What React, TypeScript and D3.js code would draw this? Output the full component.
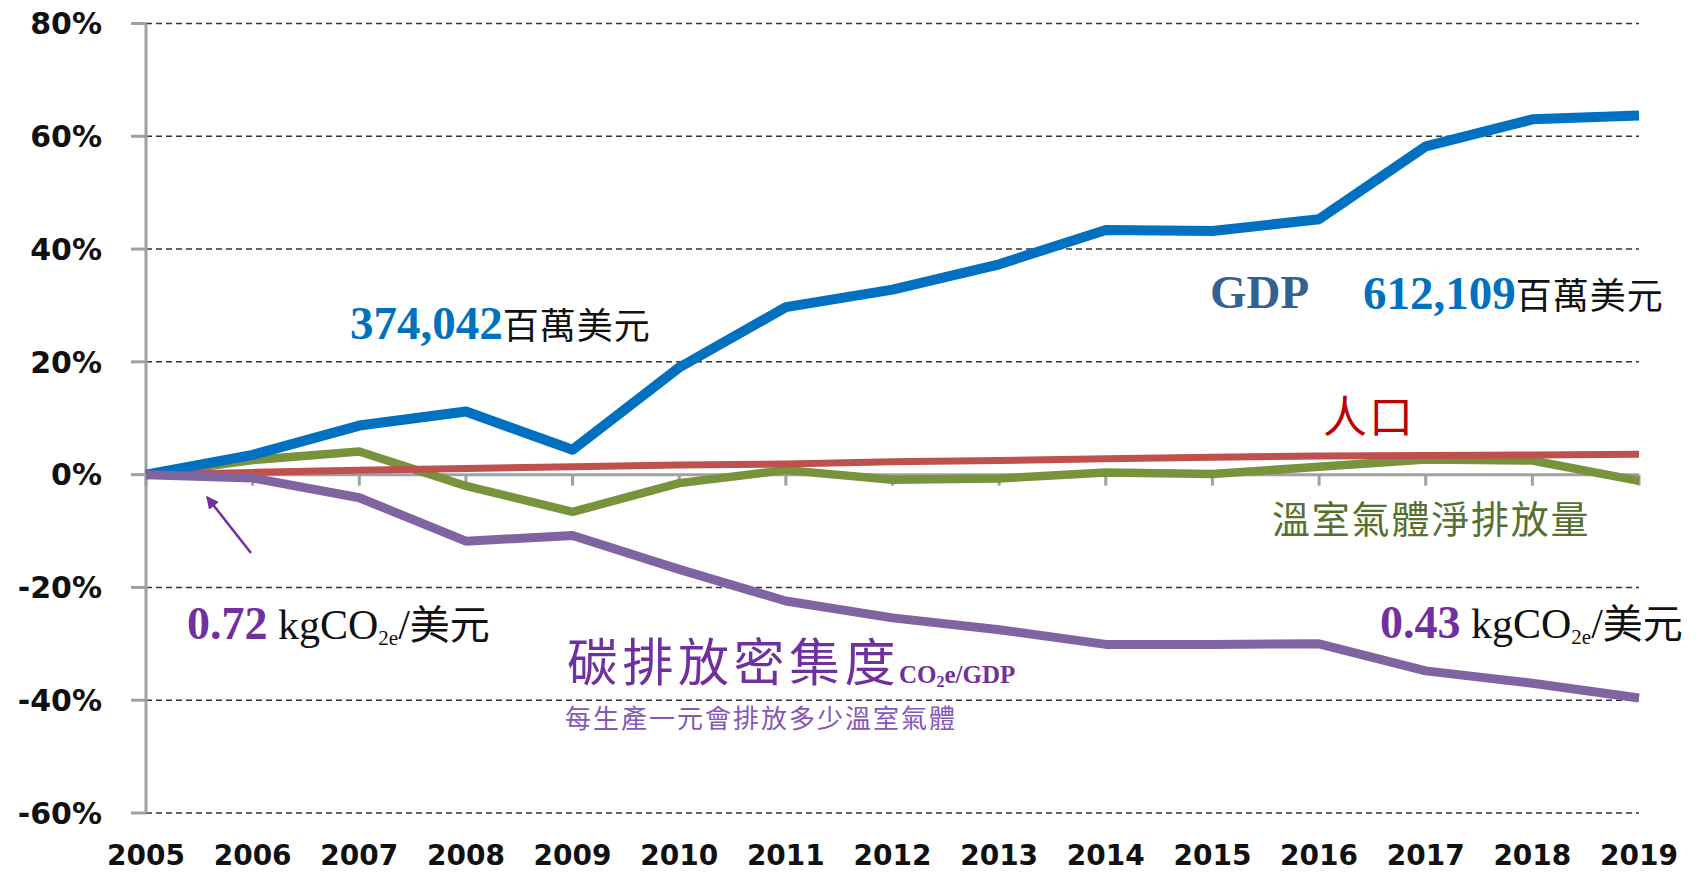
import React from "react";
import * as d3 from "d3";

const years = [2005, 2006, 2007, 2008, 2009, 2010, 2011, 2012, 2013, 2014, 2015, 2016, 2017, 2018, 2019];
const gdp = [0, 3.5, 8.7, 11.2, 4.4, 19.0, 29.7, 32.8, 37.3, 43.4, 43.2, 45.3, 58.2, 63.0, 63.7];
const ghg = [0, 2.6, 4.1, -2.0, -6.6, -1.5, 0.8, -0.9, -0.7, 0.4, 0.1, 1.4, 2.7, 2.5, -1.1];
const population = [0, 0.4, 0.8, 1.1, 1.4, 1.7, 1.9, 2.3, 2.5, 2.8, 3.1, 3.3, 3.4, 3.5, 3.6];
const intensity = [0, -0.6, -4.1, -11.8, -10.8, -16.8, -22.4, -25.4, -27.5, -30.1, -30.1, -30.0, -34.8, -37.0, -39.6];
const yTicks = [80, 60, 40, 20, 0, -20, -40, -60];

const CJK = "'Noto Sans CJK TC', 'Noto Sans CJK SC', sans-serif";
const SERIF = "'Liberation Serif', 'DejaVu Serif', serif";
const AXISFONT = "'DejaVu Sans', Verdana, sans-serif";

export default function App() {
  const x = d3.scaleLinear().domain([2005, 2019]).range([146, 1639]);
  const y = d3.scaleLinear().domain([-60, 80]).range([813, 23.5]);
  const line = d3
    .line<number>()
    .x((_, i) => x(years[i]))
    .y((d) => y(d));

  const series = [
    { data: ghg, color: "#77933C", w: 8.5 },
    { data: population, color: "#C0504D", w: 7 },
    { data: gdp, color: "#0070C0", w: 10 },
    { data: intensity, color: "#8064A2", w: 9 },
  ];

  const x0 = x(2005);
  const x1 = x(2019);

  return (
    <svg
      width={1700}
      height={873}
      style={{ position: "absolute", left: 0, top: 0, background: "#fff" }}
    >
      <defs>
        <marker id="arrowhead" viewBox="0 0 10 10" refX="9" refY="5" markerWidth="5" markerHeight="5" orient="auto">
          <path d="M0,0 L10,5 L0,10 z" fill="#7030A0" />
        </marker>
      </defs>
      {yTicks
        .filter((t) => t !== 0)
        .map((t) => (
          <line
            key={"g" + t}
            x1={x0}
            x2={x1}
            y1={y(t)}
            y2={y(t)}
            stroke="#333"
            strokeWidth={1.5}
            strokeDasharray="6,4"
          />
        ))}
      <line x1={x0} x2={x0} y1={y(80)} y2={y(-60)} stroke="#A0A0A0" strokeWidth={3} />
      {yTicks.map((t) => (
        <g key={"yt" + t}>
          <line x1={x0 - 15} x2={x0} y1={y(t)} y2={y(t)} stroke="#A0A0A0" strokeWidth={3} />
          <text
            x={102}
            y={y(t)}
            dy="0.36em"
            textAnchor="end"
            fontFamily={AXISFONT}
            fontWeight="bold"
            fontSize={30}
            fill="#111"
          >
            {t + "%"}
          </text>
        </g>
      ))}
      <line x1={x0} x2={x1} y1={y(0)} y2={y(0)} stroke="#A0A0A0" strokeWidth={3} />
      {years.map((yr) => (
        <g key={"xt" + yr}>
          <line x1={x(yr)} x2={x(yr)} y1={y(0)} y2={y(0) + 11} stroke="#A0A0A0" strokeWidth={3} />
          <text
            x={x(yr)}
            y={865}
            textAnchor="middle"
            fontFamily={AXISFONT}
            fontWeight="bold"
            fontSize={28}
            fill="#111"
          >
            {yr}
          </text>
        </g>
      ))}
      {series.map((s, i) => (
        <path
          key={"s" + i}
          d={line(s.data) || ""}
          fill="none"
          stroke={s.color}
          strokeWidth={s.w}
          strokeLinejoin="round"
        />
      ))}

      <text x={350} y={339} fontFamily={SERIF} fontWeight="bold" fontSize={47} fill="#0070C0">
        374,042
        <tspan fontFamily={CJK} fontWeight="normal" fontSize={36} fill="#111" letterSpacing={1}>百萬美元</tspan>
      </text>
      <text x={1210} y={308} fontFamily={SERIF} fontWeight="bold" fontSize={47} fill="#366092">
        GDP
      </text>
      <text x={1363} y={309} fontFamily={SERIF} fontWeight="bold" fontSize={47} fill="#0070C0">
        612,109
        <tspan fontFamily={CJK} fontWeight="normal" fontSize={36} fill="#111" letterSpacing={1}>百萬美元</tspan>
      </text>
      <text x={1323} y={433} fontFamily={CJK} fontSize={44} fill="#C00000" letterSpacing={2}>
        人口
      </text>
      <text x={1272} y={533} fontFamily={CJK} fontSize={38} fill="#56702F" letterSpacing={1.8}>
        溫室氣體淨排放量
      </text>

      <text x={187} y={639} fontFamily={SERIF} fontWeight="bold" fontSize={46} fill="#7030A0">
        0.72
        <tspan fontWeight="normal" fontSize={42} fill="#111"> kgCO</tspan>
        <tspan fontWeight="normal" fontSize={21} fill="#111" dy={6}>2e</tspan>
        <tspan fontWeight="normal" fontSize={42} fill="#111" dy={-6}>/</tspan>
        <tspan fontFamily={CJK} fontWeight="normal" fontSize={40} fill="#111">美元</tspan>
      </text>
      <text x={1380} y={638} fontFamily={SERIF} fontWeight="bold" fontSize={46} fill="#7030A0">
        0.43
        <tspan fontWeight="normal" fontSize={42} fill="#111"> kgCO</tspan>
        <tspan fontWeight="normal" fontSize={21} fill="#111" dy={6}>2e</tspan>
        <tspan fontWeight="normal" fontSize={42} fill="#111" dy={-6}>/</tspan>
        <tspan fontFamily={CJK} fontWeight="normal" fontSize={40} fill="#111">美元</tspan>
      </text>

      <text x={567} y={681} fontFamily={CJK} fontSize={51} fill="#7030A0" letterSpacing={4.5}>
        碳排放密集度
      </text>
      <text x={899} y={683} fontFamily={SERIF} fontWeight="bold" fontSize={25} fill="#7030A0">
        CO
        <tspan fontSize={16} dy={4}>2</tspan>
        <tspan dy={-4}>e/GDP</tspan>
      </text>
      <text x={565} y={728} fontFamily={CJK} fontSize={26} fill="#8458B8" letterSpacing={2}>
        每生產一元會排放多少溫室氣體
      </text>

      <line
        x1={251}
        y1={553}
        x2={207}
        y2={497}
        stroke="#7030A0"
        strokeWidth={2.5}
        markerEnd="url(#arrowhead)"
      />
    </svg>
  );
}
